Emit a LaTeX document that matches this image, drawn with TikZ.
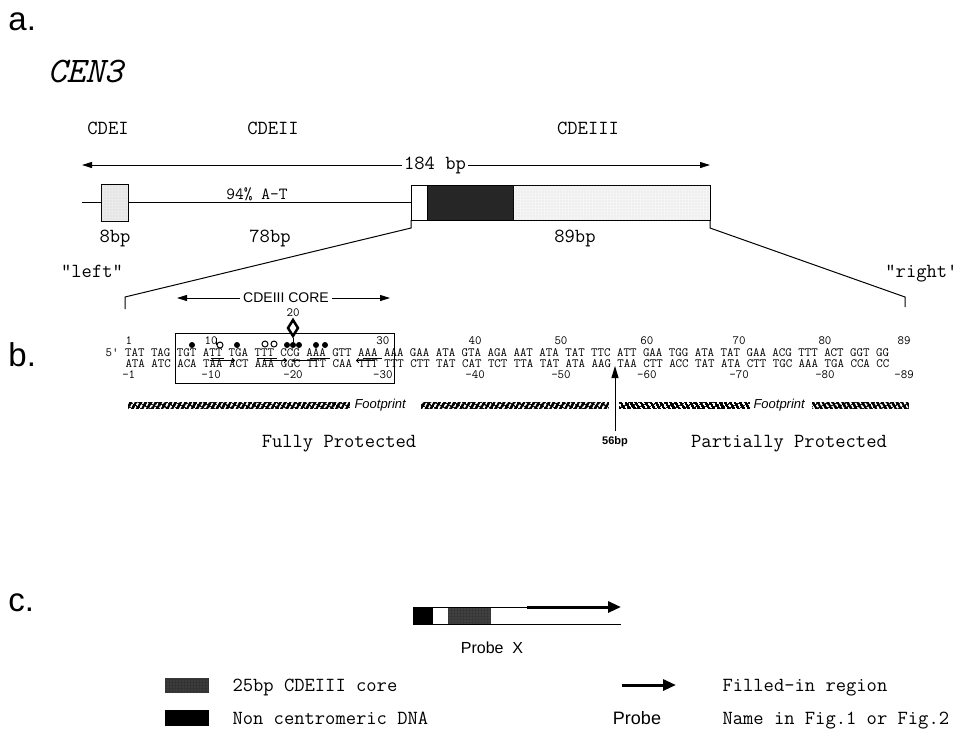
\documentclass[tikz,border=0pt]{standalone}
\usepackage{fontspec}
\setsansfont{Liberation Sans}
\usetikzlibrary{arrows.meta,positioning,patterns.meta,shapes.geometric}

\begin{document}
\begin{tikzpicture}[
  x=1pt, y=-1pt, line width=1pt,
  panel/.style={font=\fontsize{33}{34}\selectfont\sffamily, inner sep=0pt, anchor=base west},
  lab/.style={font=\fontsize{20}{21}\selectfont\ttfamily, inner sep=0pt},
  seq/.style={font=\fontsize{12.57}{13}\selectfont\ttfamily, inner sep=0pt, anchor=base west,
              text height=8pt, text depth=0.5pt},
  numlab/.style={font=\fontsize{12.57}{13}\selectfont\ttfamily, inner sep=0pt,
                 text height=8pt, text depth=0.5pt},
  sflab/.style={font=\fontsize{14}{15}\selectfont\sffamily, inner sep=0pt},
  seg/.style={draw, minimum height=35pt, inner sep=0pt, outer sep=0pt, anchor=west},
  blk/.style={minimum height=17pt, inner sep=0pt, outer sep=0pt, anchor=west},
  stip/.style={postaction={pattern={Dots[distance=3pt,radius=0.45pt]}, pattern color=black!35}},
  dim/.style={{Triangle[length=10pt,width=6pt]}-{Triangle[length=10pt,width=6pt]}},
  foot/.style={fill=black, minimum height=7pt, inner sep=0pt, outer sep=0pt, anchor=west},
  fwd/.style={foot, postaction={pattern={Lines[angle=60,distance=4pt,line width=1.7pt]}, pattern color=white}},
  rev/.style={foot, postaction={pattern={Lines[angle=120,distance=4pt,line width=1.7pt]}, pattern color=white}},
  site/.style={circle, fill=black, inner sep=0pt, minimum size=6pt},
  osite/.style={circle, draw, fill=white, inner sep=0pt, minimum size=6pt},
  rep/.style={-{To[length=3pt,width=5pt]}, line width=0.8pt},
  fat/.style={-{Triangle[length=13pt,width=11pt]}, line width=3pt}
]
\useasboundingbox (0,0) rectangle (959,732);

% a. -- the CEN3 element
\node[panel] (pa) at (8,30) {a.};
\node[font=\fontsize{36}{36}\selectfont\ttfamily\itshape, inner sep=0pt, anchor=base west] (cen) at (47,82) {CEN3};
\node[lab, anchor=base] (lI) at (108,134) {CDEI};
\node[lab, anchor=base] (lII) at (273,134) {CDEII};
\node[lab, anchor=base] (lIII) at (588,134) {CDEIII};

\coordinate (bpL) at (82,165);
\coordinate (bpR) at (710,165);
\draw[dim] (bpL) -- (bpR);
\node[lab, fill=white, inner xsep=2pt] (bp) at (435,165) {184 bp};

\coordinate (start) at (82,202.5);
\node[seg, minimum width=27pt, minimum height=37pt, fill=black!8, stip] (cdeI) at (101,202.5) {};
\node[seg, minimum width=16pt, fill=white] (cIIIa) at (411,202.5) {};
\node[seg, minimum width=86pt, fill=black!85, right=0pt of cIIIa] (cIIIb) {};
\node[seg, minimum width=197pt, fill=black!4, stip, right=0pt of cIIIb] (cIIIc) {};
\draw (start) -- (cdeI);
\draw (cdeI) -- (cIIIa);

\node[lab, font=\fontsize{17}{18}\selectfont\ttfamily, anchor=base] (at) at (257,199) {94\% A-T};
\node[lab, anchor=base] (sI) at (115,242) {8bp};
\node[lab, anchor=base] (sII) at (270,242) {78bp};
\node[lab, anchor=base] (sIII) at (575,242) {89bp};

% zoom lines down to the sequence
\coordinate (zl) at (125,297);
\coordinate (zlend) at (125,309);
\coordinate (zr) at (905,297);
\coordinate (zrend) at (905,307);
\draw (cIIIa.south west) -- ++(0,8) -- (zl) -- (zlend);
\draw (cIIIc.south east) -- ++(0,8) -- (zr) -- (zrend);
\node[lab, anchor=base] (left) at (92,277) {"left"};
\node[lab, anchor=base east] (right) at (958,277) {"right\textquotesingle};

% b. -- the 89bp sequence
\node[panel] (pb) at (8,366) {b.};
\coordinate (coreL) at (177,298);
\coordinate (coreR) at (390,298);
\draw[dim] (coreL) -- (coreR);
\node[sflab, fill=white, inner xsep=3pt] (corelab) at (286,298) {CDEIII CORE};
\node[draw, minimum width=219pt, minimum height=50pt, inner sep=0pt, outer sep=0pt, anchor=north west] (corebox) at (175,333) {};

\node[seq] (top) at (105.2,356) {5\textquotesingle{} TAT TAG TGT ATT TGA TTT CCG AAA GTT AAA AAA GAA ATA GTA AGA AAT ATA TAT TTC ATT GAA TGG ATA TAT GAA ACG TTT ACT GGT GG};
\node[seq] (bot) at (125,367) {ATA ATC ACA TAA ACT AAA GGC TTT CAA TTT TTT CTT TAT CAT TCT TTA TAT ATA AAG TAA CTT ACC TAT ATA CTT TGC AAA TGA CCA CC};

\foreach \n/\c in {1/0,10/12,30/38,40/52,50/65,60/78,70/92,80/105,89/117}
  \node[numlab, anchor=base west] (t\n) at ({125+6.6*\c},344) {\n};
\node[numlab] (t20) at (293,313) {20};
\foreach \n in {1,10,20,30,40,50,60,70,80,89}
  \node[numlab, anchor=base] (m\n) at (t\n.base |- 0,378) {-\n};

% contacts on the top strand
\node[site] (d1) at (192,345) {};
\node[site] (d2) at (237,345) {};
\node[site] (d3) at (287,345) {};
\node[site] (d4) at (293,345) {};
\node[site] (d5) at (299,345) {};
\node[site] (d6) at (316,345) {};
\node[site] (d7) at (325,345) {};
\node[osite] (o1) at (220,345) {};
\node[osite] (o2) at (265,344) {};
\node[osite] (o3) at (274,344) {};
\draw (o1.west) -- ++(0,-7);
\node[diamond, draw, line width=2.5pt, fill=white, minimum width=11pt, minimum height=17pt, inner sep=0pt] (hyp) at (293,328) {};
\draw (hyp.south) -- (d4);

% inverted repeats
\foreach \a/\b in {210.8/224,257/276.8,309.8/329.6,362.6/382.4}
  \draw[line width=0.8pt] (\a,358) -- (\b,358);
\foreach \a/\b in {209.5/235,263/287,317/292.6,375/356}
  \draw[rep] (\a,360.5) -- (\b,360.5);

% footprint
\node[fwd, minimum width=222pt] (fp1) at (128,405) {};
\node[sflab, font=\fontsize{13}{14}\selectfont\sffamily\itshape, anchor=west] (fpt1) at (354,405) {Footprint};
\node[fwd, minimum width=188pt] (fp2) at (421,405) {};
\node[rev, minimum width=131pt] (fp3) at (619,405) {};
\node[sflab, font=\fontsize{13}{14}\selectfont\sffamily\itshape, anchor=west] (fpt2) at (753,405) {Footprint};
\node[rev, minimum width=97pt] (fp4) at (812,405) {};

\node[font=\fontsize{11}{12}\selectfont\sffamily\bfseries, inner sep=0pt] (bp56) at (615,442) {56bp};
\coordinate (aag) at (615,366);
\draw[-{Triangle[length=12pt,width=7pt]}] ([yshift=5pt]bp56.north) -- (aag);
\node[lab, anchor=base] (full) at (339,447) {Fully Protected};
\node[lab, anchor=base] (part) at (789,447) {Partially Protected};

% c. -- the probe
\node[panel] (pc) at (8,611) {c.};
\node[blk, fill=black, minimum width=20pt] (pnc) at (413,615.5) {};
\node[blk, fill=white, minimum width=15pt, right=0pt of pnc] (pgap) {};
\node[blk, fill=black!78, stip, minimum width=43pt, right=0pt of pgap] (pcore) {};
\coordinate (ptop) at (527,607);
\coordinate (pend) at (621,607);
\coordinate (pbot) at (621,624);
\draw (pnc.north west) -- (ptop);
\draw (pnc.south west) -- (pbot);
\draw[fat] (ptop) -- (pend);
\node[sflab, font=\fontsize{16}{17}\selectfont\sffamily] (probe) at (492,648) {Probe\ \ X};

% key
\node[blk, fill=black!80, stip, minimum width=44pt, minimum height=15pt] (kcore) at (165,685.5) {};
\node[lab, anchor=base west] (kcorelab) at (232,691.5) {25bp CDEIII core};
\node[blk, fill=black, minimum width=44pt, minimum height=16pt] (knc) at (165,718) {};
\node[lab, anchor=base west] (knclab) at (232,724) {Non centromeric DNA};
\coordinate (kfa) at (622,685);
\coordinate (kfb) at (676,685);
\draw[fat] (kfa) -- (kfb);
\node[lab, anchor=base west] (kfill) at (722,691.5) {Filled-in region};
\node[font=\fontsize{18}{18}\selectfont\sffamily, inner sep=0pt] (kprobe) at (637,718) {Probe};
\node[lab, anchor=base west] (kname) at (722,724) {Name in Fig.1 or Fig.2};

\end{tikzpicture}
\end{document}
